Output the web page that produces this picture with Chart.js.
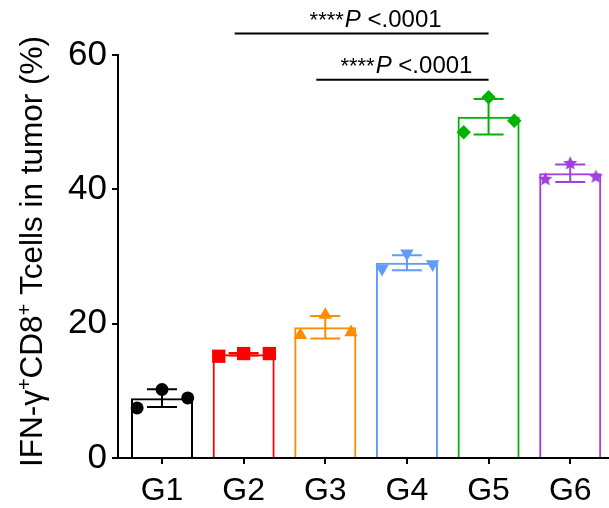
<!DOCTYPE html>
<html>
<head>
<meta charset="utf-8">
<script src="https://cdn.jsdelivr.net/npm/chart.js@4.4.1/dist/chart.umd.min.js"></script>
<style>
html,body{margin:0;padding:0;background:#fff;overflow:hidden}
</style>
</head>
<body>
<canvas id="ifnChart" width="609" height="508"></canvas>
<script>
const groups = ['G1', 'G2', 'G3', 'G4', 'G5', 'G6'];
const means = [8.9, 15.45, 19.47, 29.08, 50.81, 42.4];
const sds = [1.32, 0.2, 1.68, 1.12, 2.63, 1.3];
const ptsG1 = [7.45, 10.2, 8.95];
const ptsG2 = [15.15, 15.55, 15.55];
const ptsG3 = [18.3, 21.3, 18.7];
const ptsG4 = [28.2, 30.45, 28.85];
const ptsG5 = [48.5, 53.7, 50.2];
const ptsG6 = [41.5, 43.85, 41.85];
const yTicks = [0, 20, 40, 60];
const sigLabel = 'P <.0001';
const brackets = [
    { from: 1, to: 4, level: 63.2 },
    { from: 2, to: 4, level: 56.3 }
];

(()=>{
    Chart.defaults.font.family = '"Liberation Sans", Arial, sans-serif';
    Chart.defaults.color = '#000';

    const colors = ['#000000', '#ff0000', '#ff8c00', '#5f9cf8', '#00b300', '#a23fdf'];
    const allPts = [ptsG1, ptsG2, ptsG3, ptsG4, ptsG5, ptsG6];
    const jitter = [-0.305, 0, 0.315];

    function starImg(color, r) {
        const c = document.createElement('canvas');
        const s = Math.ceil(r * 2) + 2;
        c.width = c.height = s;
        const g = c.getContext('2d');
        g.fillStyle = color;
        g.beginPath();
        for (let k = 0; k < 10; k++) {
            const rr = k % 2 ? r * 0.45 : r;
            const a = -Math.PI / 2 + k * Math.PI / 5;
            g.lineTo(s / 2 + rr * Math.cos(a), s / 2 + rr * Math.sin(a));
        }
        g.closePath();
        g.fill();
        return c;
    }

    const markers = [
        { style: 'circle', r: 6.5, rot: 0 },
        { style: 'rect', r: 9.4, rot: 0 },
        { style: 'triangle', r: 7.8, rot: 0 },
        { style: 'triangle', r: 7.8, rot: 180 },
        { style: 'rectRot', r: 7.2, rot: 0 },
        { style: starImg(colors[5], 7.5), r: 7.5, rot: 0 }
    ];

    const errorBars = {
        id: 'errorBars',
        afterDatasetDraw(chart, args) {
            if (args.meta.type !== 'bar') return;
            const { ctx, scales: { x, y } } = chart;
            ctx.save();
            ctx.lineWidth = 2;
            means.forEach((m, i) => {
                const cx = x.getPixelForValue(i);
                const top = y.getPixelForValue(m + sds[i]);
                const bot = y.getPixelForValue(m - sds[i]);
                ctx.strokeStyle = colors[i];
                ctx.beginPath();
                ctx.moveTo(cx, top); ctx.lineTo(cx, bot);
                ctx.moveTo(cx - 15, top); ctx.lineTo(cx + 15, top);
                ctx.moveTo(cx - 15, bot); ctx.lineTo(cx + 15, bot);
                ctx.stroke();
            });
            ctx.restore();
        }
    };

    const sigBrackets = {
        id: 'sigBrackets',
        afterDraw(chart) {
            const { ctx, scales: { x, y } } = chart;
            ctx.save();
            brackets.forEach(b => {
                const x1 = x.getPixelForValue(b.from) - 9;
                const x2 = x.getPixelForValue(b.to);
                const py = y.getPixelForValue(b.level);
                ctx.strokeStyle = '#000';
                ctx.lineWidth = 2;
                ctx.beginPath();
                ctx.moveTo(x1, py); ctx.lineTo(x2, py);
                ctx.stroke();
                // ****P <.0001, P in italic
                const fStar = '22px "Liberation Sans", Arial';
                const fP = 'italic 24px "Liberation Sans", Arial';
                const fRest = '24px "Liberation Sans", Arial';
                ctx.font = fStar; const wS = ctx.measureText('****').width;
                ctx.font = fP; const wP = ctx.measureText('P').width;
                ctx.font = fRest; const wR = ctx.measureText(sigLabel.slice(1)).width;
                const total = wS + 1 + wP + wR;
                let tx = (x1 + x2) / 2 + (b.from === 1 ? 14 : 4) - total / 2;
                const ty = py - 7;
                ctx.fillStyle = '#000';
                ctx.textBaseline = 'alphabetic';
                ctx.font = fStar; ctx.fillText('****', tx, ty); tx += wS + 1;
                ctx.font = fP; ctx.fillText('P', tx, ty); tx += wP;
                ctx.font = fRest; ctx.fillText(sigLabel.slice(1), tx, ty);
            });
            ctx.restore();
        }
    };

    const yTitle = {
        id: 'yTitle',
        afterDraw(chart) {
            const { ctx, chartArea } = chart;
            const parts = [['IFN-γ', 0], ['+', 1], ['CD8', 0], ['+', 1], [' Tcells in tumor (%)', 0]];
            const big = '31.5px "Liberation Sans", Arial';
            const small = '20px "Liberation Sans", Arial';
            ctx.save();
            ctx.translate(42, (chartArea.top + chartArea.bottom) / 2 - 5);
            ctx.rotate(-Math.PI / 2);
            let total = 0;
            parts.forEach(([t, s]) => { ctx.font = s ? small : big; total += ctx.measureText(t).width; });
            let px = -total / 2;
            ctx.fillStyle = '#000';
            ctx.textBaseline = 'alphabetic';
            parts.forEach(([t, s]) => {
                ctx.font = s ? small : big;
                ctx.fillText(t, px, s ? -11 : 0);
                px += ctx.measureText(t).width;
            });
            ctx.restore();
        }
    };

    const ctx = document.querySelector('#ifnChart');
    new Chart(ctx, {
        type: 'bar',
        data: {
            datasets: [
                {
                    type: 'bar',
                    data: means.map((m, i) => ({ x: i, y: m })),
                    backgroundColor: 'rgba(255,255,255,0)',
                    borderColor: colors,
                    borderWidth: 2,
                    barPercentage: 0.76,
                    categoryPercentage: 1,
                    order: 2
                },
                ...allPts.map((vals, i) => ({
                    type: 'scatter',
                    data: vals.map((v, j) => ({ x: i + jitter[j], y: v })),
                    pointStyle: markers[i].style,
                    pointRadius: markers[i].r,
                    pointRotation: markers[i].rot,
                    pointBackgroundColor: colors[i],
                    pointBorderColor: colors[i],
                    pointBorderWidth: 0,
                    showLine: false,
                    clip: false,
                    order: 1
                }))
            ]
        },
        options: {
            responsive: false,
            animation: false,
            devicePixelRatio: 1,
            layout: { autoPadding: false, padding: { top: 55, right: 0, bottom: 0, left: 0 } },
            plugins: { legend: { display: false }, tooltip: { enabled: false } },
            scales: {
                x: {
                    type: 'linear',
                    min: -0.539,
                    max: 5.475,
                    offset: false,
                    afterBuildTicks: s => { s.ticks = groups.map((g, i) => ({ value: i })); },
                    afterFit: s => { s.height = 50; },
                    ticks: {
                        callback: v => groups[Math.round(v)],
                        font: { size: 32 },
                        color: '#000',
                        padding: 8,
                        maxRotation: 0
                    },
                    grid: { drawOnChartArea: false, drawTicks: true, tickLength: 6, color: '#000', lineWidth: 2, offset: false },
                    border: { color: '#000', width: 2 }
                },
                y: {
                    min: 0,
                    max: 60,
                    afterBuildTicks: s => { s.ticks = yTicks.map(v => ({ value: v })); },
                    afterFit: s => { s.width = 118; },
                    ticks: { font: { size: 35 }, color: '#000', padding: 5 },
                    grid: { drawOnChartArea: false, drawTicks: true, tickLength: 6, color: '#000', lineWidth: 2 },
                    border: { color: '#000', width: 2 }
                }
            }
        },
        plugins: [errorBars, sigBrackets, yTitle]
    });
})();
</script>
</body>
</html>
